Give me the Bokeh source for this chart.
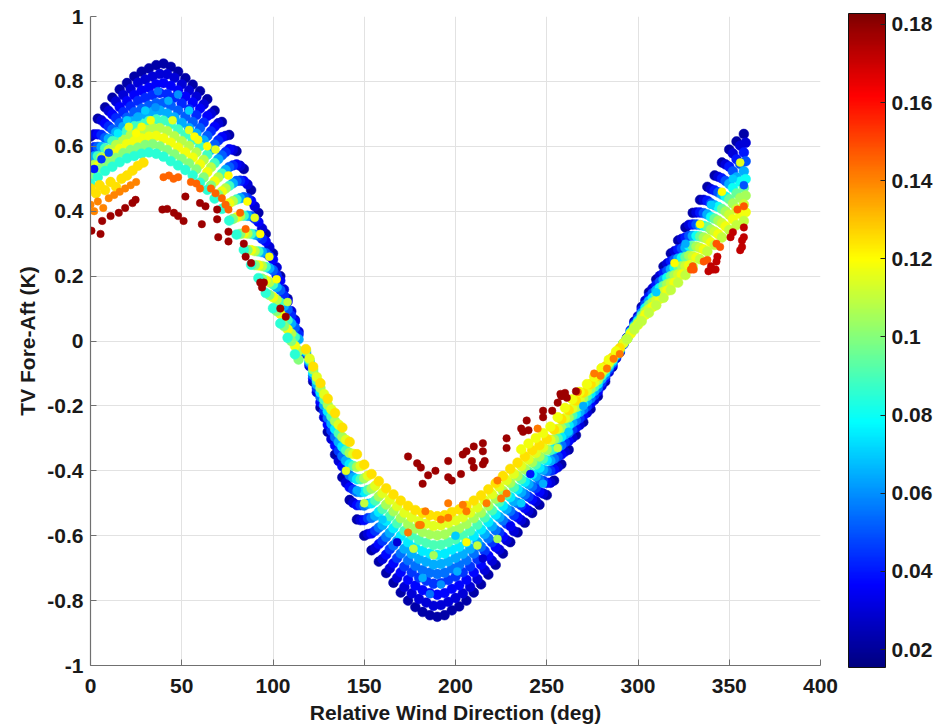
from bokeh.plotting import figure
from bokeh.models import ColumnDataSource, LinearColorMapper, ColorBar, FixedTicker
from bokeh.embed import file_html
from bokeh.resources import INLINE

# ---------------- axes / colour scale ----------------
X_TICKS = [0, 50, 100, 150, 200, 250, 300, 350, 400]
Y_TICKS = [-1, -0.8, -0.6, -0.4, -0.2, 0, 0.2, 0.4, 0.6, 0.8, 1]
Y_LABELS = ["-1", "-0.8", "-0.6", "-0.4", "-0.2", "0", "0.2", "0.4", "0.6", "0.8", "1"]
C_LOW, C_HIGH = 0.0154, 0.1828
CB_TICKS = [0.02, 0.04, 0.06, 0.08, 0.10, 0.12, 0.14, 0.16, 0.18]
CB_LABELS = ["0.02", "0.04", "0.06", "0.08", "0.1", "0.12", "0.14", "0.16", "0.18"]

# ---------------- positive lobe (0-115 deg) ----------------
P_XE = [0,4,8,12,16,20,24,28,32,36,40,44,48,52,56,60,64,68,72,76,80,84,88,92,96,100,104,108,112]
P_XO = [2,6,10,14,18,22,26,30,34,38,42,46,50,54,58,62,66,70,74,78,82,86,90,94,98,102,106,110,114]
P_A = [0.63,0.685,0.72,0.75,0.775,0.795,0.815,0.83,0.84,0.85,0.855,0.845,0.83,0.81,0.79,0.77,0.745,0.71,0.675,0.635,0.585,0.53,0.465,0.395,0.33,0.27,0.20,0.13,0.065]
P_B = [0.637,0.680,0.709,0.738,0.758,0.777,0.796,0.806,0.815,0.823,0.822,0.811,0.791,0.772,0.753,0.729,0.700,0.671,0.632,0.589,0.540,0.483,0.415,0.347,0.29,0.227,0.159,0.092,0.029]
P_C = [0.586,0.637,0.670,0.698,0.721,0.739,0.758,0.772,0.781,0.791,0.795,0.786,0.772,0.753,0.735,0.716,0.693,0.660,0.628,0.591,0.544,0.493,0.432,0.367,0.307,0.251,0.186,0.121,0.060]
P_D = [0.597,0.635,0.661,0.687,0.705,0.723,0.740,0.749,0.758,0.764,0.761,0.750,0.732,0.714,0.696,0.673,0.646,0.618,0.582,0.541,0.494,0.440,0.377,0.315,0.262,0.203,0.140,0.078,0.020]
P_E = [0.555,0.598,0.626,0.652,0.671,0.688,0.705,0.716,0.725,0.733,0.734,0.725,0.710,0.692,0.675,0.656,0.632,0.605,0.572,0.536,0.493,0.443,0.385,0.325,0.271,0.218,0.157,0.097,0.041]
P_F = [0.569,0.598,0.623,0.643,0.660,0.676,0.689,0.697,0.706,0.710,0.701,0.689,0.672,0.656,0.639,0.618,0.589,0.560,0.527,0.486,0.440,0.386,0.328,0.274,0.224,0.166,0.108,0.054,0.005]
P_G = [0.538,0.570,0.594,0.616,0.632,0.648,0.662,0.670,0.678,0.683,0.679,0.668,0.652,0.636,0.620,0.600,0.574,0.548,0.516,0.478,0.436,0.386,0.330,0.276,0.228,0.174,0.118,0.064,0.012]
P_H = [0.543,0.566,0.589,0.604,0.620,0.635,0.643,0.651,0.657,0.656,0.647,0.631,0.616,0.601,0.581,0.558,0.535,0.504,0.470,0.431,0.385,0.331,0.277,0.231,0.181,0.127,0.073,0.023,-0.03]
P_I = [0.514,0.539,0.561,0.577,0.592,0.607,0.616,0.624,0.630,0.632,0.624,0.611,0.596,0.581,0.565,0.544,0.520,0.492,0.461,0.424,0.381,0.332,0.280,0.233,0.187,0.135,0.084,0.036,-0.015]
P_J = [0.511,0.533,0.550,0.564,0.579,0.589,0.596,0.604,0.607,0.600,0.589,0.575,0.561,0.547,0.529,0.504,0.479,0.451,0.415,0.376,0.330,0.280,0.234,0.192,0.142,0.092,0.046,0.0,-0.057]
P_K = [0.485,0.505,0.524,0.537,0.551,0.563,0.570,0.577,0.581,0.577,0.568,0.554,0.541,0.527,0.510,0.488,0.466,0.439,0.407,0.371,0.328,0.281,0.235,0.194,0.148,0.101,0.054,0.010,-0.041]

# ---------------- negative lobe (118-292 deg) ----------------
N_XE = [118,122,126,130,134,138,142,146,150,154,158,162,166,170,174,178,182,186,190,194,198,202,206,210,214,218,222,226,230,234,238,242,246,250,254,258,262,266,270,274,278,282,286,290]
N_XO = [120,124,128,132,136,140,144,148,152,156,160,164,168,172,176,180,184,188,192,196,200,204,208,212,216,220,224,228,232,236,240,244,248,252,256,260,264,268,272,276,280,284,288,292]
N_A = [-0.04,-0.125,-0.205,-0.28,-0.35,-0.42,-0.49,-0.55,-0.60,-0.645,-0.68,-0.715,-0.745,-0.775,-0.80,-0.82,-0.835,-0.845,-0.85,-0.845,-0.83,-0.818,-0.80,-0.775,-0.75,-0.72,-0.69,-0.655,-0.62,-0.59,-0.56,-0.53,-0.505,-0.475,-0.43,-0.38,-0.335,-0.29,-0.25,-0.21,-0.17,-0.125,-0.08,-0.035]
N_C = [-0.037,-0.115,-0.189,-0.258,-0.322,-0.386,-0.451,-0.506,-0.552,-0.593,-0.626,-0.658,-0.685,-0.713,-0.736,-0.754,-0.768,-0.777,-0.782,-0.777,-0.764,-0.753,-0.736,-0.713,-0.69,-0.662,-0.635,-0.603,-0.570,-0.543,-0.515,-0.488,-0.465,-0.437,-0.396,-0.350,-0.308,-0.267,-0.23,-0.193,-0.156,-0.115,-0.074,-0.032]
N_E = [-0.034,-0.106,-0.173,-0.237,-0.296,-0.355,-0.414,-0.465,-0.507,-0.545,-0.575,-0.604,-0.630,-0.655,-0.676,-0.693,-0.706,-0.714,-0.718,-0.714,-0.701,-0.691,-0.676,-0.655,-0.634,-0.608,-0.583,-0.553,-0.524,-0.499,-0.473,-0.448,-0.427,-0.401,-0.363,-0.321,-0.283,-0.245,-0.211,-0.177,-0.144,-0.106,-0.068,-0.030]
N_G = [-0.031,-0.097,-0.159,-0.217,-0.271,-0.326,-0.380,-0.426,-0.465,-0.500,-0.527,-0.554,-0.577,-0.601,-0.62,-0.636,-0.647,-0.655,-0.659,-0.655,-0.643,-0.634,-0.62,-0.601,-0.581,-0.558,-0.535,-0.508,-0.481,-0.457,-0.434,-0.411,-0.391,-0.368,-0.333,-0.295,-0.260,-0.225,-0.194,-0.163,-0.132,-0.097,-0.062,-0.027]
N_I = [-0.028,-0.088,-0.145,-0.197,-0.247,-0.296,-0.345,-0.388,-0.423,-0.455,-0.479,-0.504,-0.525,-0.546,-0.564,-0.578,-0.589,-0.596,-0.599,-0.596,-0.585,-0.577,-0.564,-0.546,-0.529,-0.508,-0.486,-0.462,-0.437,-0.416,-0.395,-0.374,-0.356,-0.335,-0.303,-0.268,-0.236,-0.204,-0.176,-0.148,-0.120,-0.088,-0.056,-0.025]
N_K = [-0.025,-0.079,-0.130,-0.178,-0.222,-0.267,-0.311,-0.349,-0.381,-0.410,-0.432,-0.454,-0.473,-0.492,-0.508,-0.521,-0.530,-0.537,-0.540,-0.537,-0.527,-0.519,-0.508,-0.492,-0.476,-0.457,-0.438,-0.416,-0.394,-0.375,-0.356,-0.337,-0.321,-0.302,-0.273,-0.241,-0.213,-0.184,-0.159,-0.133,-0.108,-0.079,-0.051,-0.022]
N_B = [-0.077,-0.158,-0.235,-0.302,-0.37,-0.437,-0.499,-0.552,-0.595,-0.638,-0.672,-0.701,-0.730,-0.758,-0.778,-0.795,-0.806,-0.816,-0.814,-0.804,-0.792,-0.778,-0.758,-0.734,-0.706,-0.677,-0.643,-0.614,-0.586,-0.552,-0.523,-0.494,-0.470,-0.437,-0.389,-0.341,-0.298,-0.259,-0.221,-0.182,-0.139,-0.096,-0.053,-0.010]
N_D = [-0.070,-0.145,-0.216,-0.277,-0.339,-0.40,-0.458,-0.506,-0.546,-0.585,-0.616,-0.642,-0.669,-0.695,-0.713,-0.729,-0.739,-0.748,-0.746,-0.737,-0.726,-0.713,-0.695,-0.673,-0.647,-0.620,-0.590,-0.563,-0.537,-0.506,-0.480,-0.453,-0.431,-0.40,-0.356,-0.312,-0.273,-0.238,-0.202,-0.167,-0.128,-0.088,-0.048,-0.009]
N_F = [-0.065,-0.134,-0.198,-0.255,-0.312,-0.369,-0.421,-0.466,-0.502,-0.539,-0.567,-0.591,-0.616,-0.640,-0.656,-0.671,-0.680,-0.689,-0.687,-0.679,-0.668,-0.656,-0.640,-0.620,-0.595,-0.571,-0.543,-0.518,-0.494,-0.466,-0.441,-0.417,-0.397,-0.369,-0.328,-0.288,-0.251,-0.219,-0.186,-0.154,-0.117,-0.081,-0.045,-0.008]
N_H = [-0.059,-0.122,-0.181,-0.233,-0.285,-0.337,-0.385,-0.426,-0.459,-0.492,-0.518,-0.540,-0.562,-0.585,-0.599,-0.613,-0.622,-0.629,-0.628,-0.620,-0.611,-0.599,-0.585,-0.566,-0.544,-0.522,-0.496,-0.474,-0.451,-0.426,-0.403,-0.381,-0.363,-0.337,-0.300,-0.263,-0.229,-0.20,-0.170,-0.141,-0.107,-0.074,-0.041,-0.007]
N_J = [-0.054,-0.111,-0.164,-0.211,-0.258,-0.305,-0.348,-0.385,-0.415,-0.446,-0.469,-0.489,-0.509,-0.529,-0.543,-0.555,-0.563,-0.570,-0.568,-0.561,-0.553,-0.543,-0.529,-0.513,-0.492,-0.472,-0.449,-0.429,-0.409,-0.385,-0.365,-0.345,-0.328,-0.305,-0.271,-0.238,-0.208,-0.181,-0.154,-0.127,-0.097,-0.067,-0.037,-0.007]
N_XL = [236,240,244,248,252,256,260,264,268,272,276,280,284,288]
N_L = [-0.334,-0.316,-0.299,-0.284,-0.264,-0.235,-0.206,-0.180,-0.157,-0.133,-0.110,-0.084,-0.058,-0.032]

# ---------------- rising lobe (294-360 deg) ----------------
R_XE = [294,298,302,306,310,314,318,322,326,330,334,338,342,346,350,354,358]
R_XO = [296,300,304,308,312,316,320,324,328,332,336,340,344,348,352,356,359]
R_A = [0.01,0.06,0.105,0.15,0.19,0.23,0.27,0.31,0.35,0.395,0.435,0.475,0.51,0.55,0.59,0.615,0.638]
R_C = [0.009,0.055,0.096,0.137,0.173,0.209,0.246,0.282,0.319,0.359,0.396,0.432,0.464,0.501,0.537,0.560,0.581]
R_E = [0.008,0.049,0.086,0.123,0.156,0.189,0.221,0.254,0.287,0.324,0.357,0.39,0.418,0.451,0.484,0.504,0.523]
R_G = [0.007,0.044,0.078,0.111,0.141,0.170,0.20,0.229,0.259,0.292,0.322,0.352,0.377,0.407,0.437,0.455,0.472]
R_I = [0.007,0.040,0.069,0.099,0.125,0.152,0.178,0.205,0.231,0.261,0.287,0.314,0.337,0.363,0.389,0.406,0.421]
R_K = [0.006,0.035,0.061,0.087,0.110,0.133,0.157,0.180,0.203,0.229,0.252,0.276,0.296,0.319,0.342,0.357,0.370]
R_B = [0.033,0.076,0.124,0.162,0.201,0.239,0.277,0.315,0.358,0.396,0.435,0.468,0.506,0.544,0.578,0.602,0.611]
R_D = [0.030,0.069,0.112,0.147,0.182,0.216,0.251,0.285,0.324,0.359,0.394,0.424,0.458,0.493,0.523,0.545,0.554]
R_F = [0.027,0.062,0.101,0.133,0.164,0.195,0.226,0.257,0.293,0.324,0.355,0.382,0.413,0.445,0.472,0.491,0.499]
R_H = [0.025,0.056,0.091,0.119,0.147,0.175,0.203,0.231,0.263,0.291,0.319,0.343,0.371,0.399,0.424,0.441,0.448]
R_J = [0.022,0.050,0.081,0.105,0.130,0.155,0.180,0.205,0.233,0.257,0.282,0.304,0.329,0.353,0.375,0.391,0.397]

# ---------------- scattered high-value points ----------------
YL_X = [0,3,5,8,11,14,17,20,23,26,29]
YL_Y = [0.47,0.455,0.48,0.465,0.49,0.475,0.50,0.51,0.525,0.54,0.55]
OL_X = [0,2,4,7,10,13,16,19,22,25]
OL_Y = [0.42,0.40,0.43,0.41,0.44,0.45,0.46,0.47,0.48,0.49]
OP_X = [40,43,45.5,48,55,58,60,66,68.5,72,74,75.6,82,85]
OP_Y = [0.505,0.51,0.50,0.505,0.49,0.485,0.47,0.47,0.455,0.44,0.42,0.405,0.395,0.345]
RP_X = [0.5,5.5,6.4,11,15.5,19,23,24.7,39.4,42,45.7,48,51,52,60,61,63,69.4,69.4,70,75.6,75.6,84,85,88,93,94,95,104,107]
RP_Y = [0.34,0.33,0.37,0.385,0.395,0.41,0.425,0.435,0.405,0.407,0.395,0.385,0.37,0.445,0.425,0.36,0.415,0.405,0.375,0.32,0.337,0.307,0.30,0.26,0.24,0.18,0.165,0.18,0.10,0.075]
OT_X = [174,180,181,183.5,192,196,196,204,206,217,225,223,228,245,267,276,279.5,283,286.6,290]
OT_Y = [-0.59,-0.567,-0.567,-0.525,-0.55,-0.545,-0.50,-0.505,-0.525,-0.50,-0.485,-0.43,-0.47,-0.27,-0.157,-0.10,-0.107,-0.085,-0.055,-0.04]
RT_X = [174,179,181,185,189,182,196,196,198,203,204,206,210,215,215,209,210,216,215,228,228,236,237,239,240,248,248,253,256,258,260,261,257.5,266]
RT_Y = [-0.356,-0.377,-0.39,-0.414,-0.40,-0.44,-0.37,-0.42,-0.43,-0.41,-0.35,-0.34,-0.325,-0.315,-0.34,-0.37,-0.39,-0.37,-0.38,-0.30,-0.33,-0.27,-0.28,-0.245,-0.275,-0.215,-0.235,-0.215,-0.19,-0.17,-0.16,-0.175,-0.163,-0.155]
OR_X = [330,336,345,354.5,358,343,329,330.5,338]
OR_Y = [0.23,0.245,0.29,0.405,0.415,0.30,0.22,0.22,0.25]
RR_X = [340,341,343,338.6,350.7,352,357,357,358,356,358,343.5,342.5]
RR_Y = [0.23,0.22,0.245,0.215,0.32,0.335,0.29,0.31,0.35,0.28,0.32,0.26,0.22]

# ---------------- off-colour dots scattered inside the band ----------------
SP_X = [26,30,35.6,42.7,37,54,48,20,15,21,25,28,54,57,59,68.5,75.6,64,45,33,2,6,10,
        86,90,93,98,102,108,
        182,192,201,186,177,188,212,223,168,215,230,241,160,150,140,146,200,206,236,248,256,262,270,
        300,310,320,326,334,340,346,352,356,358]
SP_Y = [0.69,0.71,0.72,0.74,0.77,0.71,0.76,0.68,0.64,0.66,0.64,0.66,0.65,0.63,0.62,0.59,0.51,0.60,0.68,0.68,0.53,0.56,0.58,
        0.43,0.38,0.33,0.26,0.19,0.12,
        -0.73,-0.75,-0.71,-0.78,-0.64,-0.66,-0.63,-0.61,-0.62,-0.67,-0.57,-0.41,-0.55,-0.50,-0.40,-0.46,-0.60,-0.62,-0.50,-0.44,-0.33,-0.28,-0.20,
        0.05,0.15,0.24,0.30,0.36,0.42,0.46,0.50,0.55,0.48]
SP_C = [0.065,0.07,0.06,0.065,0.055,0.07,0.06,0.07,0.075,0.115,0.12,0.118,0.115,0.12,0.118,0.115,0.12,0.12,0.115,0.118,0.04,0.045,0.05,
        0.12,0.115,0.12,0.118,0.12,0.11,
        0.065,0.06,0.065,0.055,0.11,0.105,0.11,0.105,0.03,0.03,0.035,0.04,0.07,0.11,0.115,0.065,0.07,0.12,0.07,0.065,0.11,0.07,0.065,
        0.11,0.07,0.12,0.065,0.12,0.07,0.12,0.07,0.115,0.05]

# colour value of each group (colour-bar units)
BAND_GROUPS = [
    (P_XE, P_A, 0.022), (N_XE, N_A, 0.022), (R_XE, R_A, 0.022),
    (P_XO, P_B, 0.030), (N_XO, N_B, 0.030), (R_XO, R_B, 0.030),
    (P_XE, P_C, 0.036), (N_XE, N_C, 0.037), (R_XE, R_C, 0.040),
    (P_XO, P_D, 0.043), (N_XO, N_D, 0.045), (R_XO, R_D, 0.050),
    (P_XE, P_E, 0.052), (N_XE, N_E, 0.055), (R_XE, R_E, 0.065),
    (P_XO, P_F, 0.065), (N_XO, N_F, 0.065), (R_XO, R_F, 0.080),
    (P_XE, P_G, 0.088), (N_XE, N_G, 0.075), (R_XE, R_G, 0.095),
    (P_XO, P_H, 0.108), (N_XO, N_H, 0.090), (R_XO, R_H, 0.105),
    (P_XE, P_I, 0.118), (N_XE, N_I, 0.105), (R_XE, R_I, 0.112),
    (P_XO, P_J, 0.100), (N_XO, N_J, 0.115), (R_XO, R_J, 0.118),
    (P_XE, P_K, 0.085), (N_XE, N_K, 0.125), (R_XE, R_K, 0.110),
    (N_XL, N_L, 0.118),
    (YL_X, YL_Y, 0.125),
]
SPARSE_GROUPS = [
    (OL_X, OL_Y, 0.140), (OP_X, OP_Y, 0.145),
    (OT_X, OT_Y, 0.142), (OR_X, OR_Y, 0.148),
    (RP_X, RP_Y, 0.178), (RT_X, RT_Y, 0.178), (RR_X, RR_Y, 0.172),
]


def build(groups):
    xs, ys, cs = [], [], []
    for gx, gy, gc in groups:
        for a, b in zip(gx, gy):
            xs.append(a)
            ys.append(b)
            cs.append(gc)
    return ColumnDataSource(dict(x=xs, y=ys, c=cs))


band_src = build(BAND_GROUPS)
sparse_src = build(SPARSE_GROUPS)
speck_src = ColumnDataSource(dict(x=SP_X, y=SP_Y, c=SP_C))

# jet colormap
jet = []
for i in range(256):
    t = i / 255.0
    r = min(max(1.5 - abs(4 * t - 3), 0), 1)
    g = min(max(1.5 - abs(4 * t - 2), 0), 1)
    b = min(max(1.5 - abs(4 * t - 1), 0), 1)
    jet.append("#%02x%02x%02x" % (int(r * 255 + 0.5), int(g * 255 + 0.5), int(b * 255 + 0.5)))
mapper = LinearColorMapper(palette=jet, low=C_LOW, high=C_HIGH)

FONT = "Liberation Sans"
p = figure(width=939, height=726, x_range=(0, 400), y_range=(-1, 1),
           output_backend="svg", toolbar_location=None,
           min_border_left=90, min_border_top=16, min_border_bottom=58, min_border_right=119,
           background_fill_color="white", border_fill_color="white")
p.outline_line_color = None

cmap = {"field": "c", "transform": mapper}
p.scatter("x", "y", source=band_src, size=9.8, marker="circle",
          fill_color=cmap, line_color=cmap, line_width=0.5)
p.scatter("x", "y", source=speck_src, size=8, marker="circle",
          fill_color=cmap, line_color=cmap, line_width=0.5)
p.scatter("x", "y", source=sparse_src, size=7.5, marker="circle",
          fill_color=cmap, line_color=cmap, line_width=0.5)

p.xaxis.ticker = FixedTicker(ticks=X_TICKS)
p.yaxis.ticker = FixedTicker(ticks=Y_TICKS)
p.yaxis.major_label_overrides = {t: l for t, l in zip(Y_TICKS, Y_LABELS)}
for ax in (p.xaxis, p.yaxis):
    ax.axis_line_color = "#707070"
    ax.axis_line_width = 1.2
    ax.major_tick_line_color = "#707070"
    ax.major_tick_in = 6
    ax.major_tick_out = 0
    ax.minor_tick_line_color = None
    ax.major_label_text_font = FONT
    ax.major_label_text_font_size = "21px"
    ax.major_label_text_font_style = "bold"
    ax.major_label_text_color = "#1a1a1a"
    ax.axis_label_text_font = FONT
    ax.axis_label_text_font_size = "21px"
    ax.axis_label_text_font_style = "bold"
    ax.axis_label_text_color = "#1a1a1a"
p.xaxis.axis_label = "Relative Wind Direction (deg)"
p.yaxis.axis_label = "TV Fore-Aft (K)"
p.xaxis.major_label_standoff = 13
p.yaxis.major_label_standoff = 7
p.xaxis.axis_label_standoff = 5
p.yaxis.axis_label_standoff = 5

for gr in (p.xgrid, p.ygrid):
    gr.grid_line_color = "#e2e2e2"
    gr.grid_line_width = 1

cb = ColorBar(color_mapper=mapper, ticker=FixedTicker(ticks=CB_TICKS),
              major_label_overrides={t: l for t, l in zip(CB_TICKS, CB_LABELS)},
              width=37, height=654, margin=0, padding=0, location=(28, -2),
              label_standoff=6,
              major_label_text_font=FONT, major_label_text_font_size="21px",
              major_label_text_font_style="bold", major_label_text_color="#1a1a1a",
              major_tick_line_color="#222222", major_tick_in=5, major_tick_out=0,
              minor_tick_line_color=None,
              bar_line_color="#111111", border_line_color=None,
              background_fill_color=None)
p.add_layout(cb, "right")

open("out.html", "w").write(file_html(p, INLINE))
